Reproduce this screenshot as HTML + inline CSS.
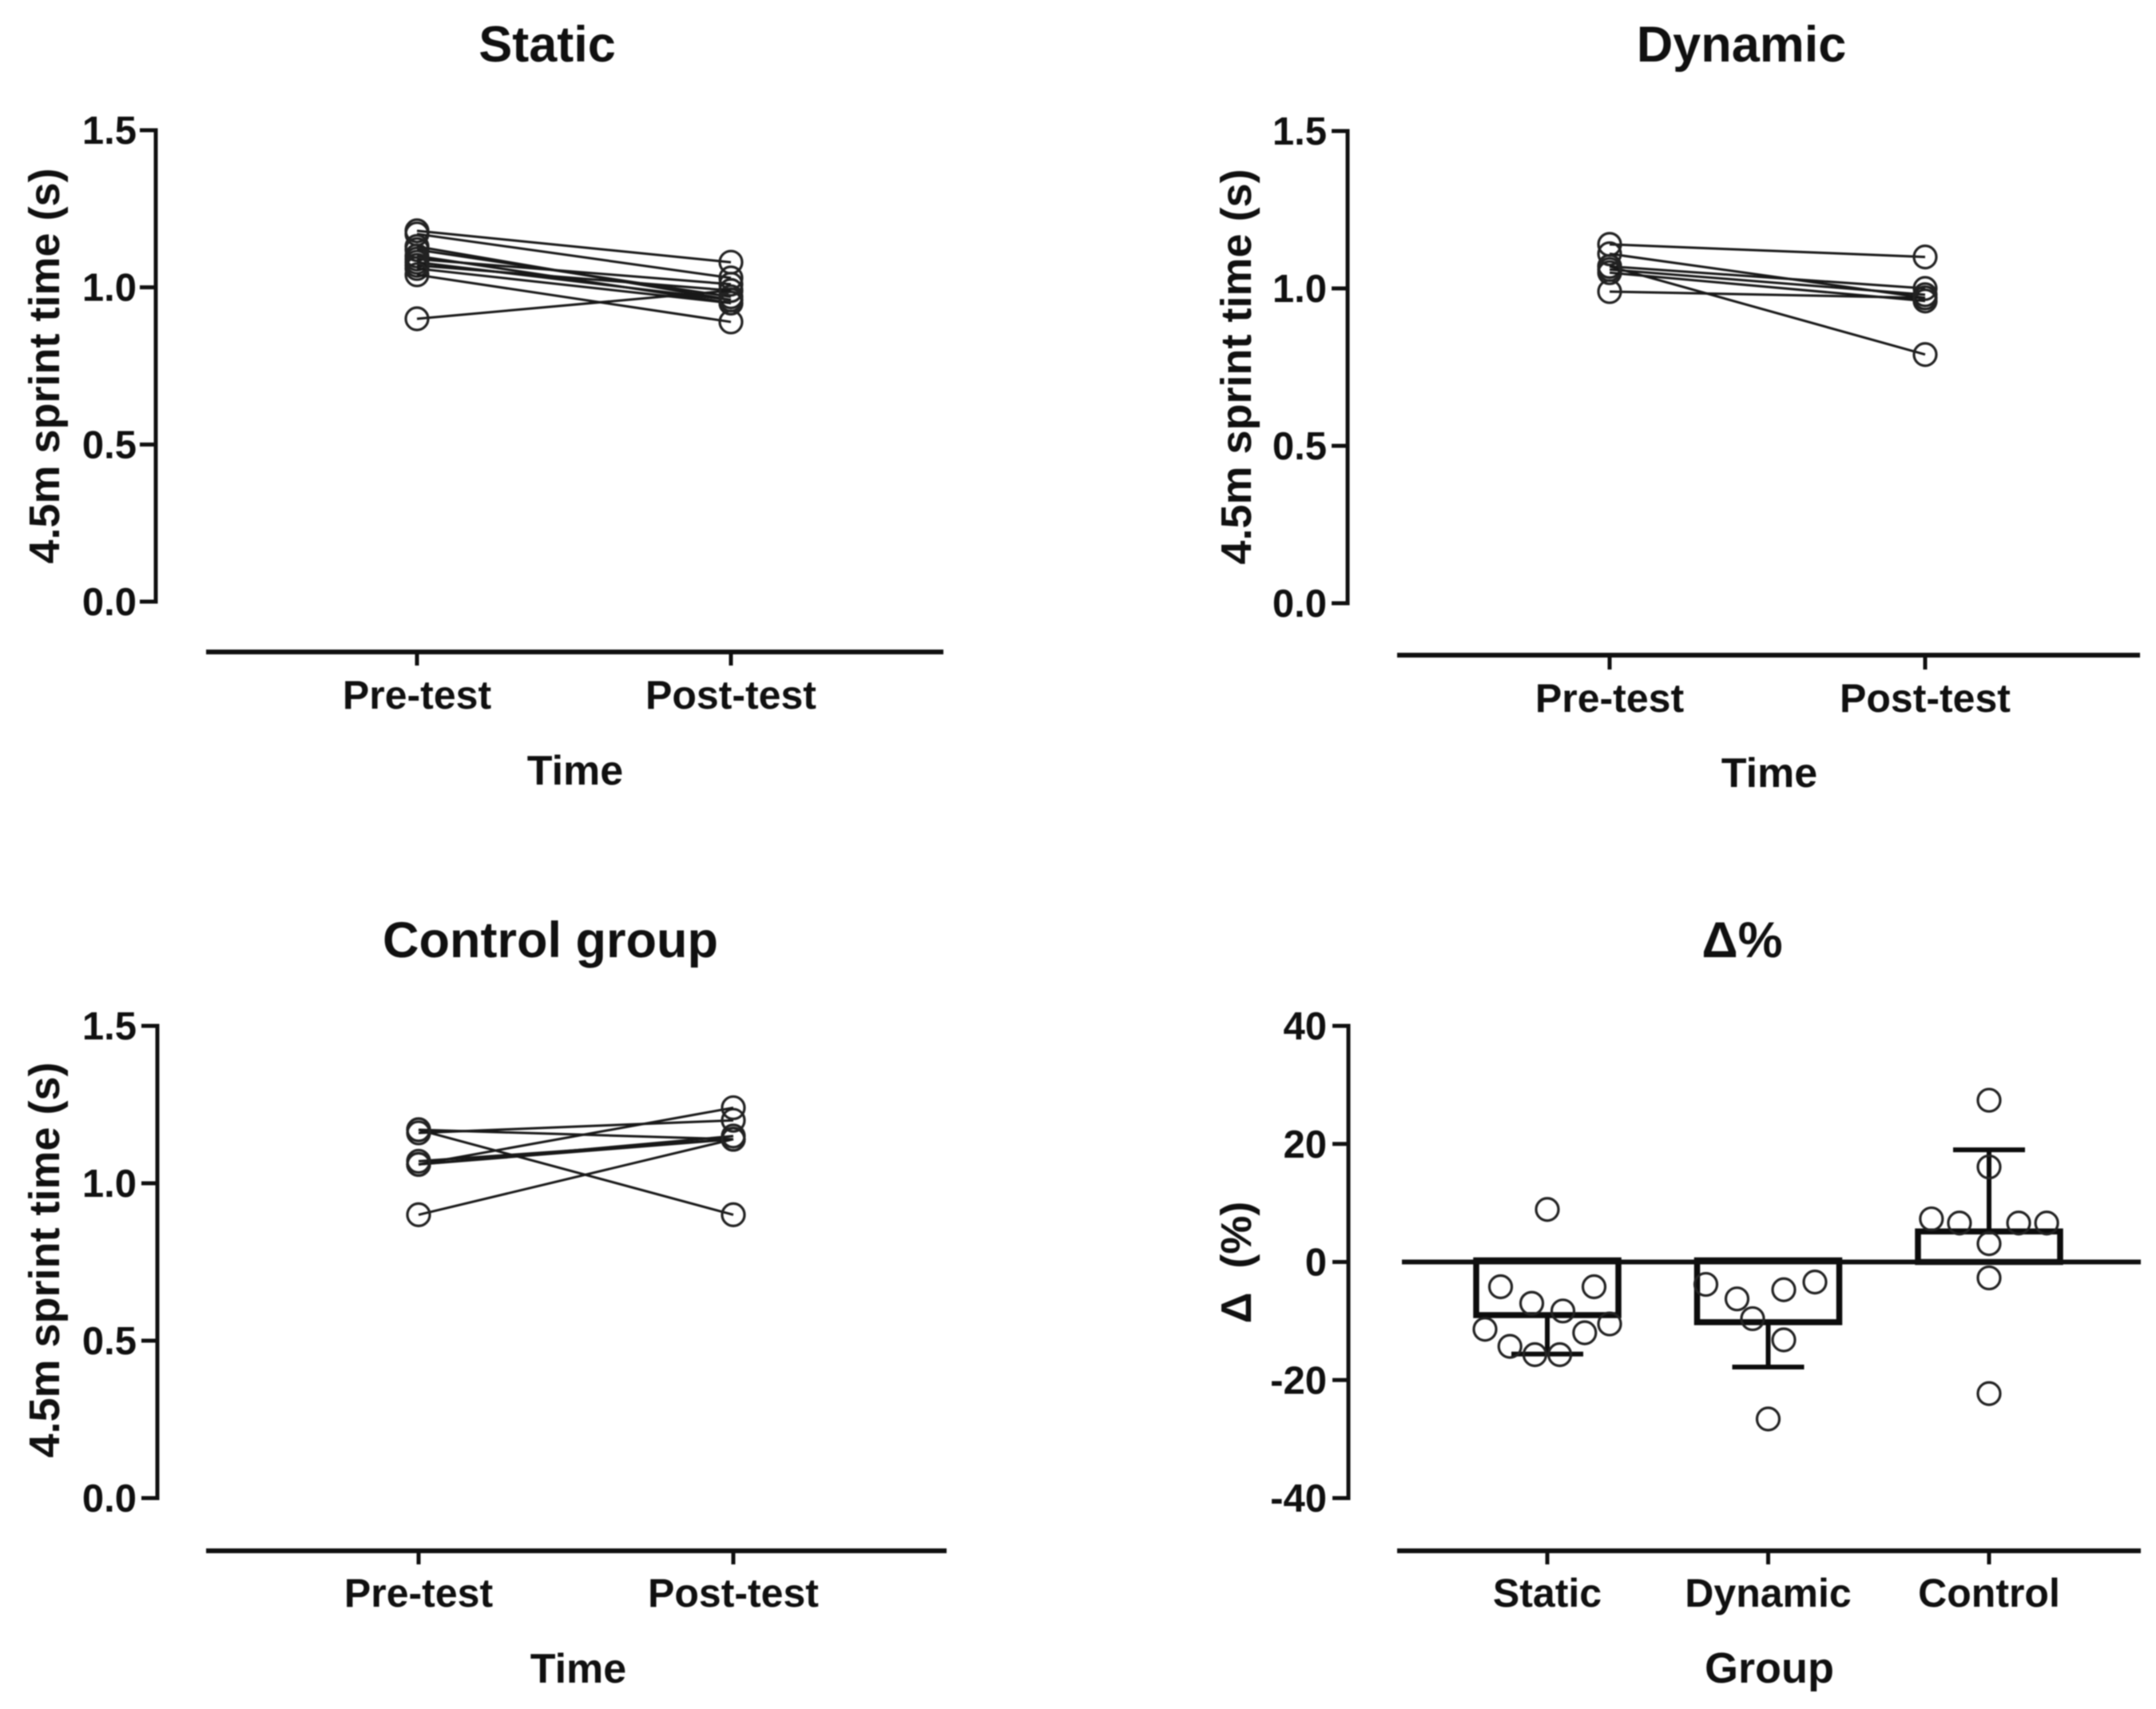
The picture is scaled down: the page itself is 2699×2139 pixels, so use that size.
<!DOCTYPE html>
<html lang="en">
<head>
<meta charset="utf-8">
<title>4.5m sprint time by group</title>
<style>
  html, body { margin: 0; padding: 0; background: #fff; }
  svg { display: block; filter: blur(0.8px); }
  text { font-family: "Liberation Sans", Arial, sans-serif; font-weight: bold; fill: #101010; }
  .title { font-size: 63px; text-anchor: middle; }
  .axis-title { font-size: 54px; text-anchor: middle; }
  .x-title { font-size: 52px; text-anchor: middle; }
  .x-label { font-size: 50px; text-anchor: middle; }
  .y-label { font-size: 49px; text-anchor: end; }
  .axis { stroke: #101010; stroke-width: 5; fill: none; }
  .base { stroke: #101010; stroke-width: 6; fill: none; }
  .link { stroke: #181818; stroke-width: 3; fill: none; }
  .dot { stroke: #222; stroke-width: 3.2; fill: none; }
  .bar { stroke: #0c0c0c; stroke-width: 7.5; fill: none; }
  .err { stroke: #0c0c0c; stroke-width: 6; fill: none; }
</style>
</head>
<body>
<svg id="figure" xmlns="http://www.w3.org/2000/svg" width="2699" height="2139" viewBox="0 0 2699 2139">
  <rect width="2699" height="2139" fill="#fff"/>

  <g id="panel-static">
    <text class="title" x="685" y="77">Static</text>
    <text class="axis-title" transform="translate(74 458) rotate(-90)">4.5m sprint time (s)</text>
    <text class="x-title" x="720" y="982">Time</text>
  </g>

  <g id="panel-dynamic">
    <text class="title" x="2180" y="77">Dynamic</text>
    <text class="axis-title" transform="translate(1566 459) rotate(-90)">4.5m sprint time (s)</text>
    <text class="x-title" x="2215" y="985">Time</text>
  </g>

  <g id="panel-control">
    <text class="title" x="689" y="1198">Control group</text>
    <text class="axis-title" transform="translate(74 1577) rotate(-90)">4.5m sprint time (s)</text>
    <text class="x-title" x="724" y="2106">Time</text>
  </g>

  <g id="panel-delta">
    <text class="title" x="2181" y="1198">Δ%</text>
    <text class="axis-title" transform="translate(1566 1580) rotate(-90)" xml:space="preserve">Δ  (%)</text>
    <text class="x-title" x="2215" y="2106" style="font-size:54px">Group</text>
  </g>
</svg>

<script>
// ---- chart data ----
const timeCategories = ['Pre-test', 'Post-test'];
const timeTicks = [0, 0.5, 1, 1.5];
const timeTickLabels = ['0.0', '0.5', '1.0', '1.5'];

const staticPre  = [1.18, 1.17, 1.13, 1.12, 1.10, 1.09, 1.08, 1.07, 1.06, 1.04, 0.90];
const staticPost = [1.08, 1.03, 0.96, 0.97, 0.95, 1.01, 0.96, 0.99, 0.95, 0.89, 0.99];

const dynamicPre  = [1.14, 1.11, 1.07, 1.07, 1.06, 1.05, 0.99];
const dynamicPost = [1.10, 0.97, 0.79, 1.00, 0.98, 0.96, 0.97];

const controlPre  = [0.90, 1.17, 1.16, 1.06, 1.17, 1.07, 1.06, 1.06];
const controlPost = [1.14, 0.90, 1.20, 1.24, 1.14, 1.14, 1.15, 1.14];

const groupCategories = ['Static', 'Dynamic', 'Control'];
const deltaTicks = [-40, -20, 0, 20, 40];
const deltaTickLabels = ['-40', '-20', '0', '20', '40'];
const deltaMeans = [-9, -10.2, 4.9];
const deltaErrorEnds = [-15.6, -17.8, 19];
const deltaStaticPoints  = [8.9, -4.2, -4.2, -7, -8.3, -11.4, -10.5, -12, -14.3, -15.7, -15.7];
const deltaStaticSlots   = [0, -3, 3, -1, 1, -4, 4, 2.4, -2.4, -0.8, 0.8];
const deltaDynamicPoints = [-3.8, -6.25, -9.6, -4.7, -3.4, -13.2, -26.6];
const deltaDynamicSlots  = [-4, -2, -1, 1, 3, 1, 0];
const deltaControlPoints = [27.4, 16.1, 7.3, 6.6, 6.6, 6.6, 3.1, -2.7, -22.3];
const deltaControlSlots  = [0, 0, -3.7, -1.9, 1.9, 3.7, 0, 0, 0];

// ---- helpers ----
const NS = 'http://www.w3.org/2000/svg';
function mk(tag, attrs, parent) {
  const el = document.createElementNS(NS, tag);
  for (const k in attrs) el.setAttribute(k, attrs[k]);
  parent.appendChild(el);
  return el;
}
function linearScale(d0, d1, r0, r1) {
  return function (v) { return r0 + (v - d0) * (r1 - r0) / (d1 - d0); };
}

function drawYAxis(g, axisX, y, ticks, labels, labelRight, prefix) {
  const top = y(ticks[ticks.length - 1]);
  const bottom = y(ticks[0]);
  const line = mk('line', { class: 'axis', x1: axisX, x2: axisX, y1: top - 2.5, y2: bottom + 2.5 }, g);
  
  
  ticks.forEach(function (t, i) {
    const tick = mk('line', { class: 'axis', x1: axisX - 20, x2: axisX, y1: y(t), y2: y(t) }, g);
    
    
    const label = mk('text', { class: 'y-label', x: labelRight, y: y(t) + 17 }, g);
    label.textContent = labels[i];
    
    
  });
}

function drawXAxis(g, x0, x1, axisY, tickBottom, labelY, positions, labels, prefix) {
  const line = mk('line', { class: 'base', x1: x0, x2: x1, y1: axisY, y2: axisY }, g);
  
  
  labels.forEach(function (name, i) {
    const tick = mk('line', { class: 'axis', x1: positions(i), x2: positions(i), y1: axisY, y2: tickBottom }, g);
    
    
    const label = mk('text', { class: 'x-label', x: positions(i), y: labelY }, g);
    label.textContent = name;
    
    
  });
}

function drawPaired(g, pre, post, y, xPos, prefix) {
  pre.forEach(function (v, i) {
    const link = mk('line', { class: 'link', x1: xPos(0), y1: y(v), x2: xPos(1), y2: y(post[i]) }, g);
    
    
    const a = mk('circle', { class: 'dot', cx: xPos(0), cy: y(v), r: 14 }, g);
    
    
    const b = mk('circle', { class: 'dot', cx: xPos(1), cy: y(post[i]), r: 14 }, g);
    
    
  });
}

function timePanel(id, prefix, geo, pre, post) {
  const g = document.getElementById(id);
  const y = linearScale(0, 1.5, geo.y0, geo.y15);
  const xPos = linearScale(0, 1, geo.preX, geo.postX);
  drawYAxis(g, geo.axisX, y, timeTicks, timeTickLabels, geo.labelRight, prefix);
  drawXAxis(g, geo.x0, geo.x1, geo.axisY, geo.tickBottom, geo.labelY, xPos, timeCategories, prefix);
  drawPaired(g, pre, post, y, xPos, prefix);
}

// ---- panels ----
timePanel('panel-static', 'static',
  { axisX: 195, y0: 753, y15: 163, preX: 522, postX: 915, labelRight: 171, x0: 258, x1: 1181, axisY: 816, tickBottom: 833, labelY: 887 },
  staticPre, staticPost);

timePanel('panel-dynamic', 'dynamic',
  { axisX: 1687, y0: 755, y15: 164, preX: 2015, postX: 2410, labelRight: 1661, x0: 1749, x1: 2679, axisY: 820, tickBottom: 838, labelY: 891 },
  dynamicPre, dynamicPost);

timePanel('panel-control', 'control',
  { axisX: 197, y0: 1875, y15: 1284, preX: 524, postX: 918, labelRight: 171, x0: 258, x1: 1185, axisY: 1941, tickBottom: 1958, labelY: 2011 },
  controlPre, controlPost);

(function deltaPanel() {
  const g = document.getElementById('panel-delta');
  const y = linearScale(-40, 40, 1875, 1284);
  const groupX = linearScale(0, 2, 1937, 2490);
  const slotWidth = 19.5;
  const barHalf = 89;
  const capHalf = 45;

  drawYAxis(g, 1688, y, deltaTicks, deltaTickLabels, 1661, 'delta');
  drawXAxis(g, 1749, 2680, 1941, 1958, 2011, groupX, groupCategories, 'delta');

  deltaMeans.forEach(function (m, i) {
    const cx = groupX(i);
    const err = mk('line', { class: 'err', x1: cx, x2: cx, y1: y(m), y2: y(deltaErrorEnds[i]) }, g);
    
    
    const cap = mk('line', { class: 'err', x1: cx - capHalf, x2: cx + capHalf, y1: y(deltaErrorEnds[i]), y2: y(deltaErrorEnds[i]) }, g);
    
    
    const bar = mk('rect', { class: 'bar', x: cx - barHalf, width: barHalf * 2, y: Math.min(y(m), y(0)) - 2, height: Math.abs(y(m) - y(0)) + 2 }, g);
    
    
  });

  const zero = mk('line', { class: 'base', x1: 1755, x2: 2680, y1: y(0), y2: y(0) }, g);
  
  

  [[deltaStaticPoints, deltaStaticSlots], [deltaDynamicPoints, deltaDynamicSlots], [deltaControlPoints, deltaControlSlots]].forEach(function (set, i) {
    set[0].forEach(function (v, j) {
      const dot = mk('circle', { class: 'dot', cx: groupX(i) + set[1][j] * slotWidth, cy: y(v), r: 14 }, g);
      
      
    });
  });
})();
</script>
</body>
</html>
